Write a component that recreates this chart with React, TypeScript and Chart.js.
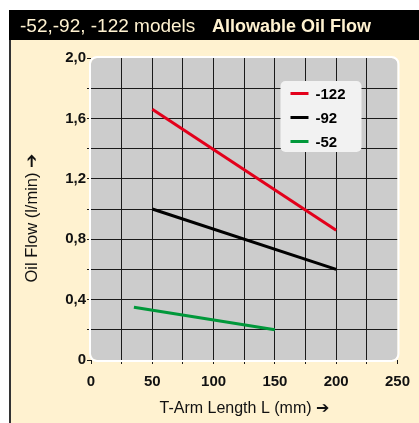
import React, { useEffect, useRef } from 'react';
import { Chart, registerables } from 'chart.js';
Chart.register(...registerables);

const seriesNames = ['-122', '-92', '-52'];
const seriesColors = ['#e3001b', '#000000', '#00983a'];
const x122 = [50, 200];
const y122 = [1.66, 0.86];
const x92 = [50, 200];
const y92 = [1.0, 0.6];
const x52 = [35, 150];
const y52 = [0.35, 0.2];
const xTickLabels = ['0', '50', '100', '150', '200', '250'];
const yTickLabels = ['0', '0,4', '0,8', '1,2', '1,6', '2,0'];
const titleLeft = '-52,-92, -122 models';
const titleRight = 'Allowable Oil Flow';
const xTitle = 'T-Arm Length L (mm) \u2794';
const yTitle = 'Oil Flow (l/min) \u2794\u00a0\u00a0\u00a0\u00a0';

const BOLDF = '"Liberation Sans", Arial, sans-serif';
const WIDE = '"Liberation Sans", Arial, sans-serif';
const CREAM = '#fff2d0';
const GRID = '#1a1a1a';

const framePlugin = {
  id: 'frame',
  beforeDraw(chart: any) {
    const { ctx, chartArea: a, width, height } = chart;
    ctx.save();
    ctx.fillStyle = '#ffffff';
    ctx.fillRect(0, 0, width, height);
    ctx.fillStyle = '#000000';
    ctx.fillRect(9, 10, width - 9, 30);
    ctx.fillStyle = CREAM;
    ctx.fillRect(9, 40, width - 9, height - 40);
    ctx.fillStyle = '#333333';
    ctx.fillRect(9, 40, 2, height - 40);
    // title
    ctx.fillStyle = CREAM;
    ctx.textBaseline = 'alphabetic';
    ctx.textAlign = 'left';
    ctx.font = '19px ' + WIDE;
    ctx.fillText(titleLeft, 20, 31.5);
    ctx.font = 'bold 18px ' + WIDE;
    ctx.fillText(titleRight, 212, 31.5);
    // plot background
    ctx.fillStyle = '#cccccc';
    ctx.beginPath();
    ctx.roundRect(a.left, a.top, a.right - a.left, a.bottom - a.top, 6);
    ctx.fill();
    ctx.restore();
  },
  beforeDatasetsDraw(chart: any) {
    const { ctx, chartArea: a } = chart;
    ctx.save();
    ctx.strokeStyle = '#ffffff';
    ctx.lineWidth = 2;
    ctx.beginPath();
    ctx.roundRect(a.left - 1, a.top - 1, a.right - a.left + 2, a.bottom - a.top + 2, 7);
    ctx.stroke();
    ctx.restore();
  },
  afterDatasetsDraw(chart: any) {
    const { ctx, chartArea: a } = chart;
    const bx = a.right - 117;
    const by = a.top + 23;
    const bw = 81;
    const bh = 71;
    ctx.save();
    ctx.fillStyle = '#f2f2f2';
    ctx.beginPath();
    ctx.roundRect(bx, by, bw, bh, 5);
    ctx.fill();
    ctx.font = 'bold 15px ' + BOLDF;
    ctx.textBaseline = 'middle';
    ctx.textAlign = 'left';
    chart.data.datasets.forEach((ds: any, i: number) => {
      const cy = by + 12.5 + i * 24;
      ctx.strokeStyle = ds.borderColor;
      ctx.lineWidth = 3;
      ctx.beginPath();
      ctx.moveTo(bx + 10, cy);
      ctx.lineTo(bx + 28, cy);
      ctx.stroke();
      ctx.fillStyle = '#000000';
      ctx.fillText(ds.label, bx + 35, cy + 1);
    });
    ctx.restore();
  },
};

export default function App() {
  const ref = useRef<HTMLCanvasElement>(null);
  useEffect(() => {
    const xs = [x122, x92, x52];
    const ys = [y122, y92, y52];
    const chart = new Chart(ref.current as HTMLCanvasElement, {
      type: 'line',
      data: {
        datasets: seriesNames.map((name, i) => ({
          label: name,
          data: xs[i].map((x, j) => ({ x, y: ys[i][j] })),
          borderColor: seriesColors[i],
          backgroundColor: seriesColors[i],
          borderWidth: 3,
          pointRadius: 0,
          tension: 0,
        })),
      },
      options: {
        animation: false,
        responsive: false,
        devicePixelRatio: 1,
        layout: { padding: { left: 0, top: 58, right: 16, bottom: 0 } },
        plugins: { legend: { display: false }, tooltip: { enabled: false } },
        scales: {
          x: {
            type: 'linear',
            min: 0,
            max: 250,
            afterFit: (s: any) => { s.height = 63; },
            border: { display: false },
            grid: {
              color: (c: any) => (c.tick && (c.tick.value === 0 || c.tick.value === 250) ? 'rgba(0,0,0,0)' : GRID),
              tickColor: GRID,
              tickLength: 4,
              lineWidth: 1,
            },
            ticks: {
              stepSize: 25,
              padding: 9,
              autoSkip: false,
              maxRotation: 0,
              color: '#111111',
              font: { family: BOLDF, size: 15, weight: 'bold' },
              callback: (v: any) => {
                const idx = Math.round(Number(v) / 50);
                return Math.round(Number(v)) % 50 === 0 ? xTickLabels[idx] : '';
              },
            },
            title: {
              display: true,
              text: xTitle,
              color: '#111111',
              font: { family: WIDE, size: 16 },
              padding: { top: 0, bottom: 5 },
            },
          },
          y: {
            type: 'linear',
            min: 0,
            max: 2,
            afterFit: (s: any) => { s.width = 91; },
            border: { display: false },
            grid: {
              color: (c: any) => (c.tick && (c.tick.value === 0 || c.tick.value === 2) ? 'rgba(0,0,0,0)' : GRID),
              tickColor: GRID,
              tickLength: 4,
              lineWidth: 1,
            },
            ticks: {
              stepSize: 0.2,
              padding: 1,
              autoSkip: false,
              color: '#111111',
              font: { family: BOLDF, size: 15, weight: 'bold' },
              callback: (v: any) => {
                const t = Math.round(Number(v) * 10);
                return t % 4 === 0 ? yTickLabels[t / 4] : '';
              },
            },
            title: {
              display: true,
              text: yTitle,
              color: '#111111',
              font: { family: WIDE, size: 16.5 },
              padding: { top: 23, bottom: 0 },
            },
          },
        },
      },
      plugins: [framePlugin],
    } as any);
    return () => chart.destroy();
  }, []);
  return (
    <div style={{ position: 'fixed', left: 0, top: 0, width: 419, height: 423 }}>
      <canvas ref={ref} width={419} height={423} style={{ display: 'block', width: 419, height: 423 }} />
    </div>
  );
}
